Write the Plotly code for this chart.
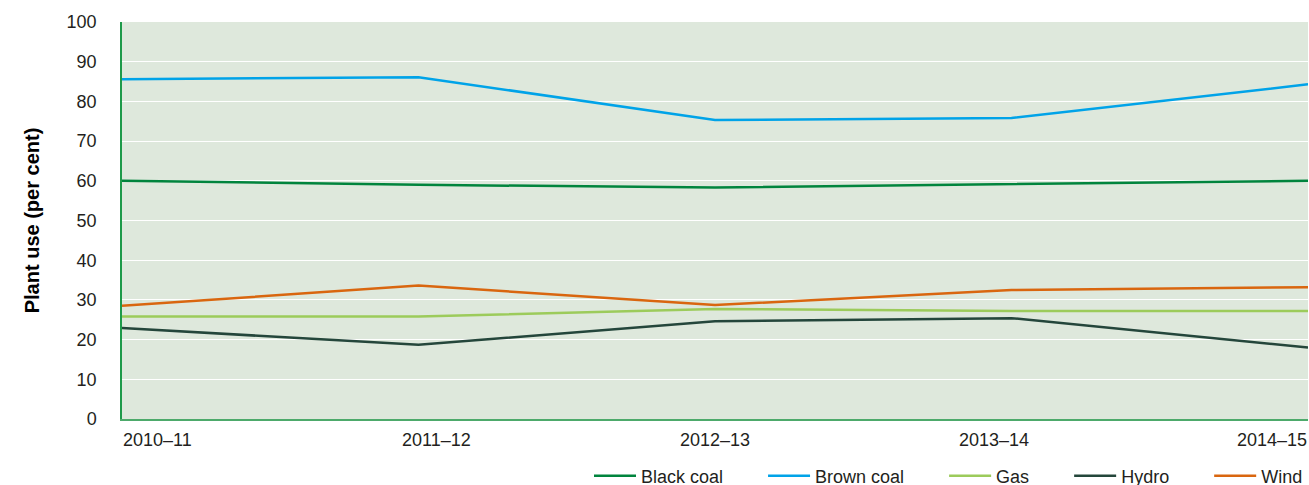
import plotly.graph_objects as go

years = ["2010–11", "2011–12", "2012–13", "2013–14", "2014–15"]
black_coal = [60.0, 59.0, 58.3, 59.2, 60.0]
brown_coal = [85.6, 86.1, 75.3, 75.8, 84.3]
gas = [25.8, 25.8, 27.7, 27.2, 27.2]
hydro = [22.9, 18.7, 24.6, 25.4, 18.0]
wind = [28.5, 33.6, 28.7, 32.5, 33.2]

series = [
    ("Black coal", black_coal, "#00843D"),
    ("Brown coal", brown_coal, "#00A3E8"),
    ("Gas", gas, "#9CCB5B"),
    ("Hydro", hydro, "#24463B"),
    ("Wind", wind, "#D9660F"),
]

xpos = list(range(len(years)))
pad = "\u00a0" * 7
fig = go.Figure()
for idx, (name, vals, color) in enumerate(series):
    fig.add_trace(go.Scatter(
        x=xpos, y=vals, name=name + (pad if idx < len(series) - 1 else ""),
        mode="lines", line=dict(color=color, width=2.5),
        cliponaxis=False,
    ))

font_family = "Liberation Sans, Arial, Helvetica, sans-serif"
text_color = "#231F20"

# x labels distributed evenly (space-between)
label_w = 0.0607
annotations = []
for i, lab in enumerate(years):
    cx = label_w / 2 + i * (1 - label_w) / (len(years) - 1)
    annotations.append(dict(
        text=lab, x=cx, xref="paper", y=-0.053, yref="paper",
        xanchor="center", yanchor="middle", showarrow=False,
        font=dict(size=18, color=text_color, family=font_family),
    ))

fig.update_layout(
    width=1309, height=500,
    margin=dict(l=122, r=1, t=22, b=81),
    paper_bgcolor="white",
    plot_bgcolor="#DEE8DC",
    font=dict(family=font_family, size=18, color=text_color),
    showlegend=True,
    legend=dict(
        orientation="h", x=1.0, xanchor="right", y=-0.1436, yanchor="middle",
        font=dict(size=18, color=text_color, family=font_family),
        itemwidth=42, tracegroupgap=0, bgcolor="rgba(0,0,0,0)",
    ),
    annotations=annotations,
    xaxis=dict(
        range=[0, 4], showticklabels=False, showgrid=False, zeroline=False,
        showline=True, linecolor="#4DAA6B", linewidth=1.5,
        tickvals=xpos, ticks="",
    ),
    yaxis=dict(
        range=[0, 100], tickvals=list(range(0, 101, 10)),
        showgrid=True, gridcolor="white", gridwidth=1.2, zeroline=False,
        showline=True, linecolor="#1E9A4A", linewidth=1.5,
        ticks="", ticklabelstandoff=20,
        tickfont=dict(size=18, color=text_color, family=font_family),
        title=dict(text="<b>Plant use (per cent)</b>", standoff=22,
                   font=dict(size=20, color="black", family=font_family)),
    ),
)

fig.write_html(
    "out.html",
    config={"displayModeBar": False},
    post_script="document.body.style.margin='0';document.body.style.overflow='hidden';",
)
